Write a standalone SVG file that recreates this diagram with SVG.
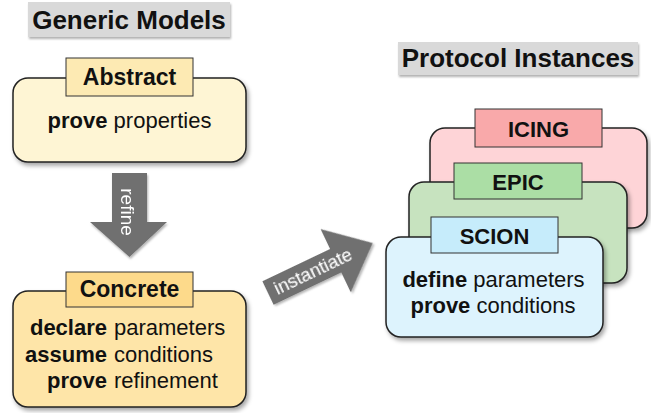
<svg xmlns="http://www.w3.org/2000/svg" width="651" height="413" viewBox="0 0 651 413">
<defs>
<filter id="sh" x="-20%" y="-20%" width="140%" height="150%">
<feDropShadow dx="2" dy="3" stdDeviation="2" flood-color="#000" flood-opacity="0.35"/>
</filter>
<filter id="shs" x="-10%" y="-20%" width="120%" height="150%">
<feDropShadow dx="1" dy="2" stdDeviation="1.2" flood-color="#000" flood-opacity="0.3"/>
</filter>
</defs>
<style>
text{font-family:"Liberation Sans",Arial,Helvetica,sans-serif;fill:#111}
.title{font-size:26px;font-weight:bold;text-anchor:middle}
.tbg{fill:#d9d9d9}
.box{stroke:#222;stroke-width:1.5}
.lab{stroke:#333;stroke-width:1}
.lt{font-size:23px;font-weight:bold;text-anchor:middle}
.pt{font-size:22px;font-weight:bold;text-anchor:middle}
.b{font-size:22px;font-weight:bold}
.r{font-size:22px}
.arr{fill:#707070}
.at{fill:#fff;font-size:18.5px}
</style>

<g id="title-generic">
<rect class="tbg" x="28" y="2" width="202" height="35" filter="url(#shs)"/>
<text class="title" x="129" y="29">Generic Models</text>
</g>

<g id="title-protocol">
<rect class="tbg" x="398" y="42" width="240" height="33" filter="url(#shs)"/>
<text class="title" x="518" y="67">Protocol Instances</text>
</g>

<g id="connectors">
<g id="refine" filter="url(#shs)">
<polygon class="arr" points="112,173 147,173 147,222 167,222 129.5,257 90,222 112,222"/>
<text class="at" transform="translate(121,212) rotate(90)" text-anchor="middle" style="font-size:19px">refine</text>
</g>
<g id="instantiate" transform="translate(268,293) rotate(-25.5)" filter="url(#shs)">
<polygon class="arr" points="0,-13 75,-13 75,-35 116,0 75,35 75,13 0,13"/>
<text class="at" x="50" y="6" text-anchor="middle">instantiate</text>
</g>
</g>

<g id="abstract">
<rect class="box" x="13" y="78" width="233" height="84" rx="15" fill="#fef5d4" filter="url(#sh)"/>
<rect class="lab" x="66" y="58" width="127" height="38" fill="#fdeab3"/>
<text class="lt" x="129.5" y="85">Abstract</text>
<text class="r" x="129.5" y="128" text-anchor="middle"><tspan font-weight="bold">prove</tspan> properties</text>
</g>

<g id="concrete">
<rect class="box" x="13" y="291" width="233" height="116" rx="15" fill="#fee5a8" filter="url(#sh)"/>
<rect class="lab" x="66" y="272" width="127" height="35" fill="#fdda8b"/>
<text class="lt" x="129.5" y="297">Concrete</text>
<text class="b" x="107" y="335" text-anchor="end">declare</text>
<text class="r" x="114" y="335">parameters</text>
<text class="b" x="107" y="362" text-anchor="end">assume</text>
<text class="r" x="114" y="362">conditions</text>
<text class="b" x="107" y="388" text-anchor="end">prove</text>
<text class="r" x="114" y="388">refinement</text>
</g>

<g id="icing">
<rect class="box" x="430" y="128" width="217" height="100" rx="15" fill="#fed4d7" filter="url(#sh)"/>
<rect class="lab" x="475" y="109" width="127" height="38" fill="#f9a9aa"/>
<text class="pt" x="538.5" y="136.5">ICING</text>
</g>

<g id="epic">
<rect class="box" x="409" y="182" width="218" height="101" rx="15" fill="#c7e3bf" filter="url(#sh)"/>
<rect class="lab" x="454" y="163" width="128" height="36" fill="#abdea5"/>
<text class="pt" x="518" y="190">EPIC</text>
</g>

<g id="scion">
<rect class="box" x="386" y="237" width="217" height="100" rx="15" fill="#ddf3fd" filter="url(#sh)"/>
<rect class="lab" x="431" y="217" width="127" height="36" fill="#c6ecfb"/>
<text class="pt" x="494.5" y="244">SCION</text>
<text class="r" x="493.5" y="287" text-anchor="middle"><tspan font-weight="bold">define</tspan> parameters</text>
<text class="r" x="493" y="313" text-anchor="middle"><tspan font-weight="bold">prove</tspan> conditions</text>
</g>
</svg>
